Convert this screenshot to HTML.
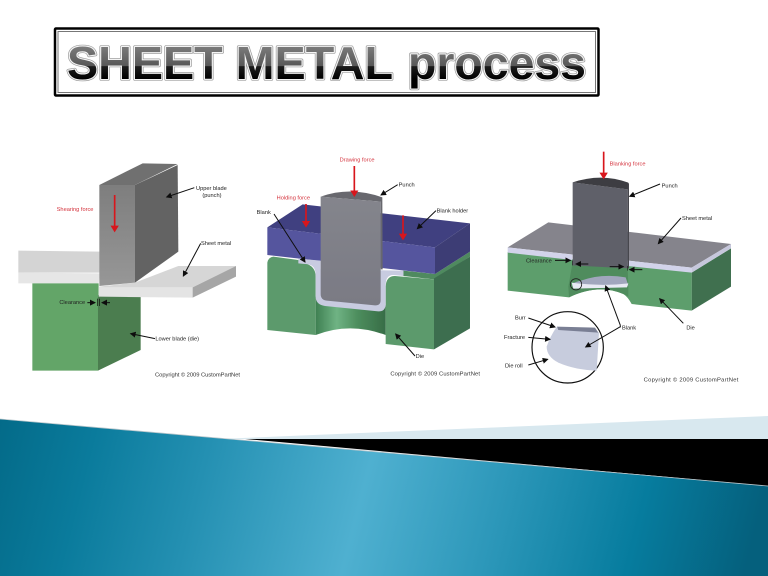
<!DOCTYPE html>
<html><head><meta charset="utf-8"><style>
html,body{margin:0;padding:0;background:#fff;width:768px;height:576px;overflow:hidden}
svg{display:block}
text{font-family:"Liberation Sans",sans-serif}
.l{font-size:17px;fill:#222}
.r{font-size:17px;fill:#d4323c}
.c{font-size:17.5px;fill:#333}
.a{stroke:#111;stroke-width:3;fill:none;marker-end:url(#ah)}
.ra{stroke:#d8141c;stroke-width:5;fill:none;marker-end:url(#rh)}
</style></head><body>
<svg width="768" height="576" viewBox="0 0 768 576" xmlns="http://www.w3.org/2000/svg">
<defs>
<marker id="ah" markerWidth="6" markerHeight="6" refX="5" refY="3" orient="auto" markerUnits="strokeWidth"><path d="M0,0L6,3L0,6z" fill="#111"/></marker>
<marker id="rh" markerWidth="4" markerHeight="5" refX="3" refY="2.5" orient="auto" markerUnits="strokeWidth"><path d="M0,0L4,2.5L0,5z" fill="#d8141c"/></marker>
<linearGradient id="teal" gradientUnits="userSpaceOnUse" x1="0" y1="400" x2="740" y2="590">
<stop offset="0" stop-color="#036a88"/><stop offset=".13" stop-color="#0a7b9c"/><stop offset=".28" stop-color="#2490b2"/>
<stop offset=".49" stop-color="#4fb0d0"/><stop offset=".67" stop-color="#2c97b9"/><stop offset=".85" stop-color="#067c9e"/><stop offset="1" stop-color="#05607d"/>
</linearGradient>
<linearGradient id="ttl" gradientUnits="userSpaceOnUse" x1="0" y1="46" x2="0" y2="79">
<stop offset="0" stop-color="#7c7c7c"/><stop offset=".6" stop-color="#585858"/><stop offset=".62" stop-color="#1c1c1c"/><stop offset="1" stop-color="#000"/>
</linearGradient>
<linearGradient id="cyl" x1="0" y1="0" x2="1" y2="0">
<stop offset="0" stop-color="#3f8052"/><stop offset=".3" stop-color="#6fb384"/><stop offset=".6" stop-color="#4d8d5d"/><stop offset="1" stop-color="#376d47"/>
</linearGradient>
<linearGradient id="blade" x1="0" y1="0" x2="0" y2="1"><stop offset="0" stop-color="#7e7e7e"/><stop offset="1" stop-color="#979797"/></linearGradient>
<linearGradient id="pg" x1="0" y1="0" x2="0" y2="1"><stop offset="0" stop-color="#84858c"/><stop offset="1" stop-color="#7a7a84"/></linearGradient>
<filter id="b" x="-5%" y="-5%" width="110%" height="110%"><feGaussianBlur stdDeviation="1.1"/></filter>
</defs>
<rect width="768" height="576" fill="#fff"/>

<!-- Title -->
<rect x="55" y="28.5" width="543.5" height="67" rx="1" fill="#fff" stroke="#000" stroke-width="2.5"/>
<rect x="58" y="31.5" width="537.5" height="61" fill="none" stroke="#777" stroke-width="1"/>
<g font-size="46" font-weight="700" stroke-linejoin="round">
<text x="67" y="79" textLength="326" lengthAdjust="spacingAndGlyphs" fill="none" stroke="#9c9c9c" stroke-width="3.6">SHEET METAL</text>
<text x="408" y="79" textLength="178" lengthAdjust="spacingAndGlyphs" fill="none" stroke="#9c9c9c" stroke-width="3.6">process</text>
<text x="67" y="79" textLength="326" lengthAdjust="spacingAndGlyphs" fill="none" stroke="#f4f4f4" stroke-width="2.2">SHEET METAL</text>
<text x="408" y="79" textLength="178" lengthAdjust="spacingAndGlyphs" fill="none" stroke="#f4f4f4" stroke-width="2.2">process</text>
<text x="67" y="79" textLength="326" lengthAdjust="spacingAndGlyphs" fill="url(#ttl)">SHEET METAL</text>
<text x="408" y="79" textLength="178" lengthAdjust="spacingAndGlyphs" fill="url(#ttl)">process</text>
</g>

<!-- Diagram 1 -->
<g transform="translate(0,140) scale(.33333)" filter="url(#b)">
<polygon points="55,332 300,335 300,398 55,398" fill="#d4d4d4"/>
<polygon points="55,398 300,400 296,430 55,430" fill="#e6e6e6"/>
<polygon points="97,430 296,430 294,692 97,692" fill="#63a568"/>
<polygon points="294,465 422,465 422,630 294,692" fill="#4c7d4f"/>
<polygon points="298,440 405,428 535,378 708,378 578,442 296,442" fill="#d6d6d6"/>
<polygon points="296,442 578,442 578,473 296,470" fill="#e4e4e4"/>
<polygon points="578,442 708,378 708,410 578,473" fill="#a6a6a6"/>
<polygon points="298,135 405,135 405,428 298,438" fill="url(#blade)"/>
<polygon points="405,135 533,75 535,335 405,428" fill="#636363"/>
<polygon points="298,135 428,70 533,72 405,135" fill="#707070"/>
<path class="ra" d="M344,165V272"/>
<path class="a" d="M583,143L500,171"/>
<path class="a" d="M602,310L550,408"/>
<path class="a" d="M465,596L392,581"/>
<path class="a" d="M262,488H285"/>
<path class="a" d="M330,488H306"/>
<path d="M293,476V498M299,476V498" stroke="#111" stroke-width="2"/>
<text class="r" x="170" y="213">Shearing force</text>
<text class="l" x="588" y="150">Upper blade</text>
<text class="l" x="607" y="171">(punch)</text>
<text class="l" x="603" y="315">Sheet metal</text>
<text class="l" x="178" y="492">Clearance</text>
<text class="l" x="466" y="602">Lower blade (die)</text>
<text class="c" x="465" y="709" textLength="255">Copyright © 2009 CustomPartNet</text>
</g>

<!-- Diagram 2 -->
<g transform="translate(250,140) scale(.33333)" filter="url(#b)">
<polygon points="460,392 555,402 660,335 660,350 552,418 460,408" fill="#4f8a5f"/>
<polygon points="552,415 660,350 660,565 552,628" fill="#3e6e50"/>
<path d="M197,470L407,495V585Q300,545 197,585Z" fill="url(#cyl)"/>
<path d="M52,368Q55,352 70,350L145,360L165,370Q197,378 197,410V585L52,570Z" fill="#5b9a6c"/>
<path d="M407,440Q408,408 435,408L552,418V628L407,612Z" fill="#5b9a6c"/>
<polygon points="52,262 158,193 660,250 555,322" fill="#3f3f80"/>
<polygon points="52,262 555,322 555,402 52,345" fill="#55559e"/>
<polygon points="555,322 660,250 660,335 555,402" fill="#3c3c74"/>
<path d="M145,356L212,362V388L460,392V408L430,405Q407,405 407,435V495Q405,515 385,514L225,498Q197,494 197,470V405Q197,372 165,372L145,370Z" fill="#c8cbe0"/>
<path d="M212,170Q300,138 397,172L398,388H392V185Z" fill="#68686e"/>
<path d="M212,170L392,185V480Q392,497 375,496L230,482Q212,480 212,462Z" fill="url(#pg)"/>
<path class="ra" d="M313,78V166"/>
<path class="ra" d="M168,192V258"/>
<path class="ra" d="M459,226V296"/>
<path class="a" d="M72,222L165,366"/>
<path class="a" d="M443,134L393,165"/>
<path class="a" d="M558,212L502,266"/>
<path class="a" d="M495,648L437,582"/>
<text class="r" x="269" y="64">Drawing force</text>
<text class="r" x="80" y="178">Holding force</text>
<text class="l" x="20" y="222">Blank</text>
<text class="l" x="446" y="139">Punch</text>
<text class="l" x="560" y="217">Blank holder</text>
<text class="l" x="497" y="654">Die</text>
<text class="c" x="421" y="707" textLength="269">Copyright © 2009 CustomPartNet</text>
</g>

<!-- Diagram 3 -->
<g transform="translate(495,140) scale(.33333)" filter="url(#b)">
<polygon points="590,398 708,325 708,440 590,512" fill="#3f7050"/>
<path d="M38,336L590,396V512L410,492Q398,470 385,462Q310,430 222,472L38,452Z" fill="#5d9e6c"/>
<path d="M232,372L398,386L400,440L400,470L385,462Q310,430 222,472L220,440Z" fill="#4f8c5d"/>
<polygon points="38,322 160,247 708,312 590,383" fill="#85848c"/>
<polygon points="38,322 232,344 232,360 38,338" fill="#d2d3ea"/>
<polygon points="398,362 590,383 590,398 398,378" fill="#d2d3ea"/>
<polygon points="590,383 708,312 708,325 590,398" fill="#c6c7dc"/>
<path d="M233,127L398,148V385L233,376Z" fill="#5f6069"/>
<path d="M233,127Q320,98 400,128V148H398Z" fill="#3d3d42"/>
<rect x="398" y="130" width="4" height="255" fill="#47474e"/>
<path d="M258,422Q320,400 392,412L400,436Q330,445 235,442Q222,430 258,422Z" fill="#a1a6bd"/>
<path d="M230,428Q320,440 400,430L396,442L235,446Z" fill="#e8e9f4"/>
<circle cx="243" cy="433" r="17" fill="none" stroke="#222" stroke-width="2.5"/>
<circle cx="218" cy="622" r="107" fill="#fff" stroke="#111" stroke-width="3.5"/>
<path d="M184,562L312,578L305,692Q240,690 190,668Q155,650 155,620Q165,590 184,562Z" fill="#c7ccdd"/>
<path d="M186,560L300,563L310,578L190,570Z" fill="#7a7f94"/>
<path class="ra" d="M326,35V113"/>
<path class="a" d="M495,132L404,169"/>
<path class="a" d="M558,234L490,311"/>
<path class="a" d="M180,361H226"/>
<path class="a" d="M280,372H243"/>
<path class="a" d="M344,380H385"/>
<path class="a" d="M442,389H404"/>
<path d="M232,362V376M398,378V392" stroke="#222" stroke-width="2"/>
<path class="a" d="M565,550L494,476"/>
<path d="M376,556L332,438" class="a"/>
<path d="M376,560L272,621" class="a"/>
<path d="M376,556V562" stroke="#111" stroke-width="3"/>
<path class="a" d="M100,534L180,561"/>
<path class="a" d="M100,592L165,598"/>
<path class="a" d="M100,675L158,658"/>
<text class="r" x="344" y="77">Blanking force</text>
<text class="l" x="500" y="143">Punch</text>
<text class="l" x="561" y="240">Sheet metal</text>
<text class="l" x="93" y="367">Clearance</text>
<text class="l" x="381" y="568">Blank</text>
<text class="l" x="574" y="568">Die</text>
<text class="l" x="60" y="539">Burr</text>
<text class="l" x="27" y="597">Fracture</text>
<text class="l" x="30" y="682">Die roll</text>
<text class="c" x="446" y="725" textLength="284">Copyright © 2009 CustomPartNet</text>
</g>

<!-- Bottom band -->
<polygon points="218,439 768,416 768,439" fill="#d8e8ef"/>
<polygon points="245,439 768,439 768,486" fill="#000"/>
<polygon points="0,419 768,486 768,576 0,576" fill="url(#teal)"/>
<line x1="0" y1="419" x2="768" y2="486" stroke="#b9c6cb" stroke-width=".8"/>
</svg>
</body></html>
